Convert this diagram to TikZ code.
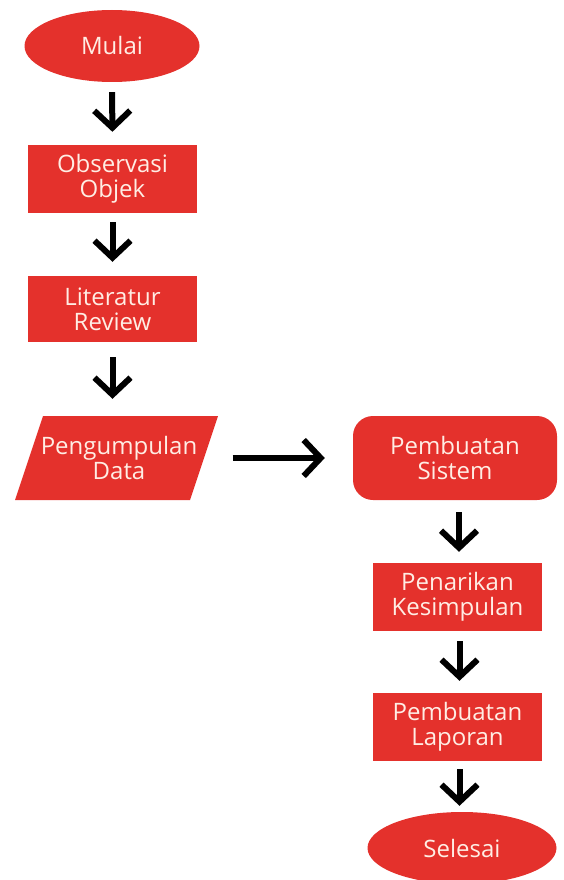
\documentclass[tikz,border=0pt]{standalone}
\usepackage{fontspec}
\setmainfont{Open Sans}
\usetikzlibrary{arrows.meta,shapes.geometric}
\definecolor{boxred}{HTML}{E4312C}
\definecolor{boxtext}{HTML}{FFEDE4}
\tikzset{
  lbl/.style={text=boxtext,font=\fontsize{24}{25}\selectfont,align=center,inner sep=0pt},
  stepbox/.style={lbl,fill=boxred,minimum width=169pt,minimum height=68pt},
  termbox/.style={lbl,fill=boxred,ellipse},
  flow/.style={line width=6pt,-{Straight Barb[length=17pt,width=36pt]},shorten <=10pt,shorten >=13pt}
}
\begin{document}
\begin{tikzpicture}[x=1pt,y=-1pt]
\useasboundingbox (0,0) rectangle (563,880);
\node[termbox,minimum width=175pt,minimum height=72pt] (mulai) at (112,46) {Mulai};
\node[stepbox] (obs) at (112.5,179) {Observasi\\Objek};
\node[stepbox,minimum height=66pt] (lit) at (112.5,309) {Literatur\\Review};
\fill[boxred] (15,500) -- (190,500) -- (218,416) -- (43,416) -- cycle;
\node[lbl,minimum width=203pt,minimum height=84pt] (data) at (119,458) {Pengumpulan\\Data};
\node[lbl,fill=boxred,rounded corners=20pt,minimum width=204pt,minimum height=84pt] (sistem) at (455,458) {Pembuatan\\Sistem};
\node[stepbox] (tarik) at (457.5,597) {Penarikan\\Kesimpulan};
\node[stepbox] (lapor) at (457.5,727) {Pembuatan\\Laporan};
\node[termbox,minimum width=189pt,minimum height=72pt] (selesai) at (462,848) {Selesai};
\draw[flow] (mulai.south) -- (obs.north);
\draw[flow,shorten <=9pt,shorten >=14pt] (obs.south) -- (lit.north);
\draw[flow,shorten <=15pt,shorten >=17pt] (lit.south) -- (lit.south |- data.north);
\draw[flow,shorten <=12pt,shorten >=28pt] (data.east) -- (sistem.west);
\draw[flow,shorten <=12pt,shorten >=11pt] (sistem.south) ++(4,0) coordinate (s1) -- (s1 |- tarik.north);
\draw[flow,shorten <=10pt,shorten >=12pt] (tarik.south) ++(2,0) coordinate (t1) -- (t1 |- lapor.north);
\draw[flow,shorten <=8pt,shorten >=6pt] (lapor.south) ++(2,0) coordinate (l1) -- (l1 |- selesai.north);
\end{tikzpicture}
\end{document}
